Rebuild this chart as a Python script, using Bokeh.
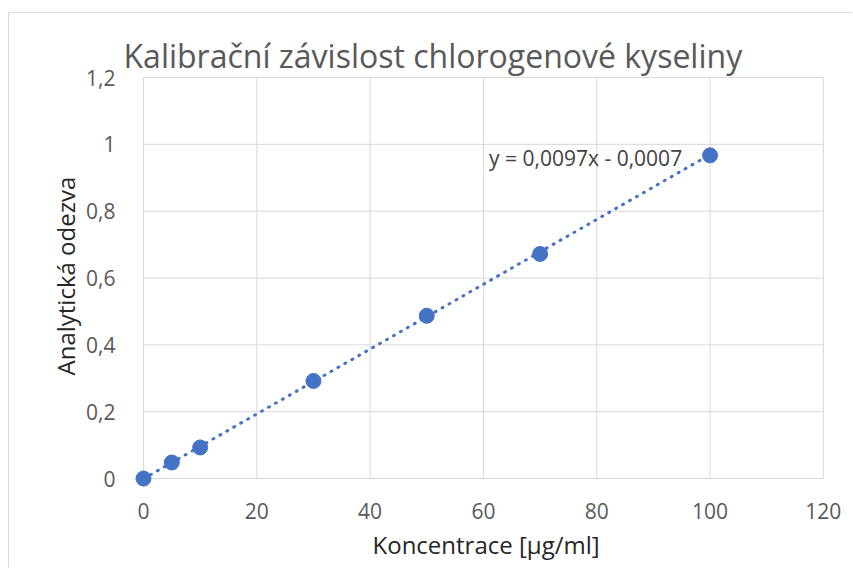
from bokeh.plotting import figure
from bokeh.models import Range1d, FixedTicker, CustomJSTickFormatter, Label, ColumnDataSource, Title
from bokeh.embed import file_html
from bokeh.resources import INLINE

# data
conc = [0, 5, 10, 30, 50, 70, 100]
response = [0.0, 0.048, 0.093, 0.292, 0.487, 0.672, 0.967]
slope = 0.0097
intercept = -0.0007
trend_x = [0, 100]
trend_y = [slope * v + intercept for v in trend_x]
x_ticks = [0, 20, 40, 60, 80, 100, 120]
y_ticks = [0, 0.2, 0.4, 0.6, 0.8, 1.0, 1.2]
title_text = "Kalibrační závislost chlorogenové kyseliny"
x_label = "Koncentrace [µg/ml]"
y_label = "Analytická odezva"
eq_text = "y = 0,0097x - 0,0007"

FONT = "Open Sans"
TXT = "#595959"
GRID = "#d9d9d9"
BLUE = "#4472C4"

# small padding below/left of zero so the marker at the origin is not clipped
p = figure(width=844, height=555, output_backend="svg", toolbar_location=None,
           x_range=Range1d(-3, 120.2), y_range=Range1d(-0.0507, 1.203),
           min_border_left=117, min_border_right=29, min_border_top=63, min_border_bottom=73)
p.styles = {"border-left": "1px solid #d9d9d9", "border-top": "1px solid #d9d9d9",
            "margin-top": "12px", "margin-left": "8px"}
p.outline_line_color = None

p.title.text = title_text
p.title.text_font = FONT
p.title.text_font_size = "32px"
p.title.text_font_style = "normal"
p.title.text_color = TXT
p.title.align = "left"
p.title.offset = -3
p.title.standoff = 0

for ax in (p.xaxis, p.yaxis):
    ax.axis_line_color = None
    ax.major_tick_line_color = None
    ax.minor_tick_line_color = None
    ax.major_label_text_font = FONT
    ax.major_label_text_font_size = "21px"
    ax.major_label_text_color = TXT

p.xaxis.ticker = FixedTicker(ticks=x_ticks)
p.yaxis.ticker = FixedTicker(ticks=y_ticks)
fmt = CustomJSTickFormatter(code="return (Math.round(tick*10)/10).toString().replace('.', ',');")
p.xaxis.formatter = fmt
p.yaxis.formatter = fmt
p.xaxis.major_label_standoff = 1
p.yaxis.major_label_standoff = 5

# axis titles (positioned relative to the 0..max data area, not the padded frame)
xt = Title(text=x_label, align="left", offset=246, standoff=8, text_font=FONT,
           text_font_size="24px", text_font_style="normal", text_color="#262626")
yt = Title(text=y_label, align="left", offset=120, standoff=3, text_font=FONT,
           text_font_size="24px", text_font_style="normal", text_color="#262626")
p.add_layout(xt, "below")
p.add_layout(yt, "left")

# grid drawn only over the data area
p.xgrid.grid_line_color = None
p.ygrid.grid_line_color = None
p.segment(x0=[x_ticks[0]] * len(y_ticks), x1=[x_ticks[-1]] * len(y_ticks), y0=y_ticks, y1=y_ticks,
          line_color=GRID, line_width=1, level="underlay")
p.segment(x0=x_ticks, x1=x_ticks, y0=[y_ticks[0]] * len(x_ticks), y1=[y_ticks[-1]] * len(x_ticks),
          line_color=GRID, line_width=1, level="underlay")

p.line(trend_x, trend_y, line_color=BLUE, line_width=3, line_dash="1 7", line_cap="round")
src = ColumnDataSource(dict(x=conc, y=response))
p.scatter("x", "y", source=src, size=15, fill_color=BLUE, line_color=BLUE)

p.add_layout(Label(x=61.0, y=0.958, text=eq_text, text_align="left", text_baseline="alphabetic",
                   text_font=FONT, text_font_size="21px", text_color="#404040"))

open("out.html", "w").write(file_html(p, INLINE))
